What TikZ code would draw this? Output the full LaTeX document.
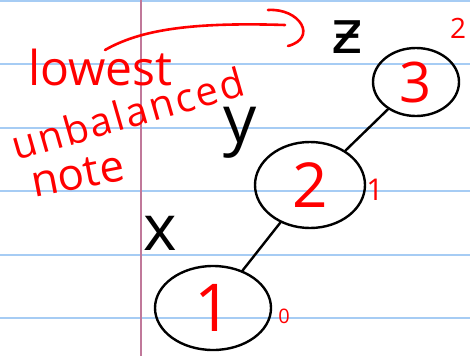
\documentclass[tikz,border=0pt]{standalone}
\usepackage{fontspec}
\setmainfont{Open Sans}
\newfontfamily\dejavu{DejaVu Sans}
\usetikzlibrary{shapes.geometric}
\definecolor{ink}{HTML}{FF0000}
\definecolor{ruling}{HTML}{A6CCF4}
\definecolor{marginc}{HTML}{C0789A}
\begin{document}
\begin{tikzpicture}[x=1pt,y=-1pt,
  hand/.style={text=ink, inner sep=0pt},
  blackhand/.style={text=black, inner sep=0pt},
  treenode/.style={ellipse, draw=black, line width=2.4pt, text=ink, inner sep=0pt},
  link/.style={draw=black, line width=2.4pt, line cap=round},
  redline/.style={draw=ink, line width=2.6pt, line cap=round}]
\useasboundingbox (0,0) rectangle (470,356);
\fill[white] (0,0) rectangle (470,356);
\foreach \yy in {1,64,128,191,255,318} \draw[ruling, line width=2pt] (0,\yy) -- (470,\yy);
\draw[marginc, line width=2pt] (141,0) -- (141,356);

% red handwriting
\node[hand, font=\fontsize{48}{48}\selectfont, anchor=base west] (lowest) at (28,85) {lowest};
\node[hand, font=\fontsize{40}{40}\selectfont\addfontfeature{LetterSpace=6}, anchor=base west, rotate=16] (unbal) at (16,161) {unbalanced};
\node[hand, font=\fontsize{44}{44}\selectfont, anchor=base west, rotate=11] (note) at (34,198) {note};

% arrow to z
\coordinate (arrstart) at (105,50);
\coordinate (arrend) at (285,25);
\draw[redline] (arrstart) .. controls (140,30) and (190,22) .. (arrend);
\draw[redline] (268,10) .. controls (300,8) and (318,38) .. (288,46);

% black letters
\node[blackhand, font=\dejavu\fontsize{60}{60}\selectfont] (z) at (347,37) {ƶ};
\node[blackhand, font=\fontsize{66}{66}\selectfont] (y) at (240,133) {y};
\node[blackhand, font=\fontsize{64}{64}\selectfont] (x) at (160,233) {x};

% tree
\node[treenode, minimum width=86pt, minimum height=68pt, font=\fontsize{56}{56}\selectfont] (n3) at (416,82) {3};
\node[treenode, minimum width=110pt, minimum height=86pt, font=\fontsize{62}{62}\selectfont] (n2) at (310,185) {2};
\node[treenode, minimum width=116pt, minimum height=84pt, font=\fontsize{66}{66}\selectfont] (n1) at (213,308) {1};
\draw[link] (n3) -- (n2);
\draw[link] (n2) -- (n1);

% heights
\node[hand, font=\fontsize{28}{28}\selectfont] (h3) at (458,28) {2};
\node[hand, font=\fontsize{30}{30}\selectfont] (h2) at (375,190) {1};
\node[hand, font=\fontsize{20}{20}\selectfont] (h1) at (284,316) {0};
\end{tikzpicture}
\end{document}
